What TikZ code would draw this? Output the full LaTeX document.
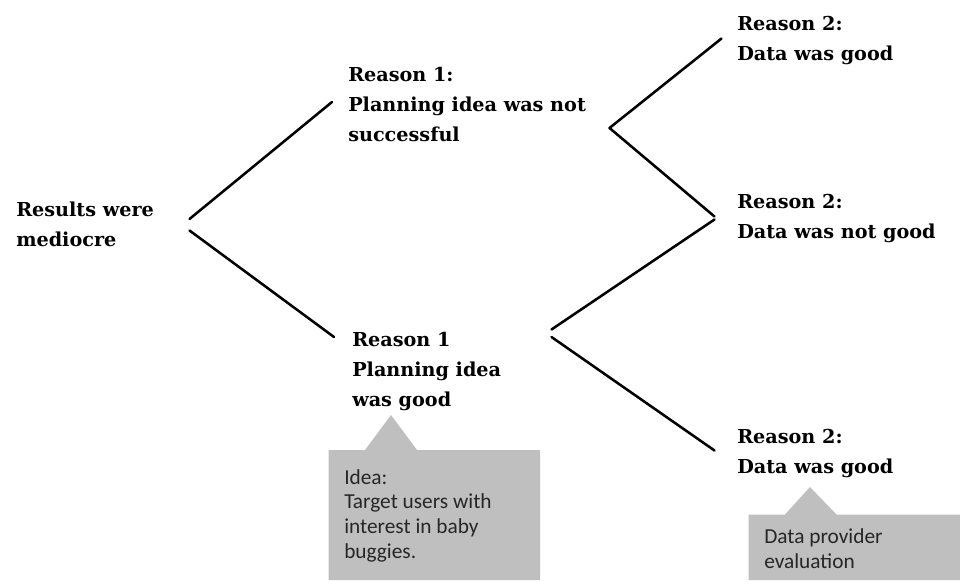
\documentclass[tikz,border=0pt]{standalone}
\usepackage{fontspec}
\setmainfont{DejaVu Serif}
\newfontfamily\calloutfont{Carlito}
\definecolor{calloutgray}{HTML}{BFBFBF}
\definecolor{notetext}{HTML}{262626}
\tikzset{
  lbl/.style={anchor=base west, align=left, inner sep=0pt, font=\bfseries\fontsize{14.4}{22.5}\selectfont},
  note/.style={anchor=base west, align=left, inner sep=0pt, text=notetext, font=\calloutfont\fontsize{16}{18.4}\selectfont},
  branch/.style={line width=1.9pt, line cap=round},
  callout/.style={fill=calloutgray, draw=none}
}
\begin{document}
\begin{tikzpicture}[x=0.75pt, y=-0.75pt]
\useasboundingbox (0,0) rectangle (960,586);
% text nodes (placed at the baseline of their last line)
\node[lbl] (root) at (16,246) {Results were\\mediocre};
\node[lbl] (r1a) at (348,141) {Reason 1:\\Planning idea was not\\successful};
\node[lbl] (r1b) at (352,406) {Reason 1\\Planning idea\\was good};
\node[lbl] (r2a) at (737,60.5) {Reason 2:\\Data was good};
\node[lbl] (r2b) at (737,238) {Reason 2:\\Data was not good};
\node[lbl] (r2c) at (737,473) {Reason 2:\\Data was good};
% connector end points
\coordinate (rootU) at (189.5,219);
\coordinate (rootD) at (189.5,230.5);
\coordinate (r1aIn) at (332,102);
\coordinate (r1bIn) at (334,337);
\coordinate (r1aOut) at (609.5,128);
\coordinate (r2aIn) at (721.5,38.5);
\coordinate (r2bInA) at (714.5,216.5);
\coordinate (r1bOutU) at (551.5,329.5);
\coordinate (r1bOutD) at (551.5,337);
\coordinate (r2bInB) at (714.5,219.5);
\coordinate (r2cIn) at (714.5,450.5);
\draw[branch] (rootU) -- (r1aIn);
\draw[branch] (rootD) -- (r1bIn);
\draw[branch] (r1aOut) -- (r2aIn);
\draw[branch] (r1aOut) -- (r2bInA);
\draw[branch] (r1bOutU) -- (r2bInB);
\draw[branch] (r1bOutD) -- (r2cIn);
% callouts
\fill[callout] (328.5,580) -- (328.5,450) -- (365,450) -- (391,415) -- (417,450) -- (540,450) -- (540,580) -- cycle;
\node[note] (idea) at (344,558) {Idea:\\Target users with\\interest in baby\\buggies.};
\fill[callout] (748.5,580) -- (748.5,514.5) -- (785,514.5) -- (810,487) -- (836.5,514.5) -- (960,514.5) -- (960,580) -- cycle;
\node[note] (dp) at (764,568.5) {Data provider\\evaluation};
\end{tikzpicture}
\end{document}
